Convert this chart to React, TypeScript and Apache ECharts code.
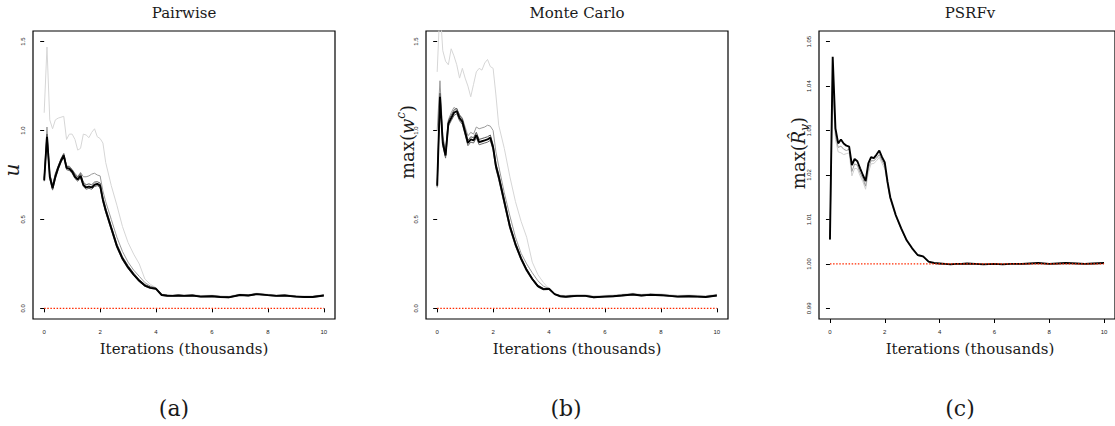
import React, { useEffect, useRef } from "react";
import * as echarts from "echarts";

// iterations (thousands)
const X = [0, 0.1, 0.2, 0.3, 0.4, 0.5, 0.6, 0.7, 0.8, 0.9, 1.0, 1.1, 1.2, 1.3, 1.4, 1.5, 1.6, 1.7, 1.8, 1.9, 2.0, 2.1, 2.2,
  2.4, 2.6, 2.8, 3.0, 3.2, 3.4, 3.6, 3.8, 4.0, 4.2, 4.4, 4.6, 4.8,
  5.0, 5.3, 5.6, 6.0, 6.3, 6.6, 7.0, 7.3, 7.6, 8.0, 8.3, 8.6, 9.0, 9.3, 9.6, 10.0];

const X_TICKS = [0, 2, 4, 6, 8, 10];
const Y_TICKS_AB = [0, 0.5, 1.0, 1.5];
const Y_TICKS_C = [0.99, 1.0, 1.01, 1.02, 1.03, 1.04, 1.05];
const REF_X = [0, 10];
const REF_AB = 0;
const REF_C = 1;

// Panel (a) Pairwise
const A_out = [1.10, 1.47, 1.06, 1.01, 1.06, 1.07, 1.075, 1.08, 0.95, 0.98, 0.98, 0.95, 0.89, 0.90, 0.98, 0.975, 0.96, 0.99, 1.01, 0.965, 0.955, 0.93, 0.82,
  0.69, 0.58, 0.46, 0.37, 0.305, 0.25, 0.165, 0.135, 0.115, 0.08, 0.076, 0.075, 0.078,
  0.076, 0.078, 0.072, 0.074, 0.07, 0.068, 0.08, 0.077, 0.085, 0.079, 0.075, 0.077, 0.071, 0.069, 0.069, 0.077];
const A_g1 = [0.73, 1.02, 0.76, 0.69, 0.76, 0.80, 0.84, 0.87, 0.80, 0.80, 0.78, 0.76, 0.74, 0.765, 0.74, 0.74, 0.745, 0.755, 0.76, 0.75, 0.745, 0.66, 0.60,
  0.50, 0.40, 0.32, 0.26, 0.215, 0.18, 0.145, 0.125, 0.115, 0.078, 0.074, 0.073, 0.075,
  0.073, 0.075, 0.069, 0.071, 0.067, 0.065, 0.078, 0.075, 0.083, 0.077, 0.073, 0.075, 0.069, 0.067, 0.067, 0.075];
const A_g2 = [0.73, 0.98, 0.755, 0.69, 0.755, 0.80, 0.84, 0.87, 0.80, 0.795, 0.78, 0.752, 0.738, 0.758, 0.71, 0.695, 0.70, 0.695, 0.71, 0.712, 0.705, 0.625, 0.565,
  0.462, 0.362, 0.29, 0.24, 0.198, 0.162, 0.134, 0.12, 0.112, 0.078, 0.073, 0.072, 0.074,
  0.072, 0.074, 0.068, 0.07, 0.066, 0.064, 0.077, 0.074, 0.082, 0.076, 0.072, 0.074, 0.068, 0.066, 0.066, 0.074];
const A_g3 = [0.715, 0.95, 0.73, 0.665, 0.73, 0.78, 0.82, 0.85, 0.78, 0.775, 0.76, 0.73, 0.715, 0.735, 0.685, 0.67, 0.675, 0.67, 0.685, 0.69, 0.68, 0.60, 0.54,
  0.44, 0.342, 0.272, 0.223, 0.185, 0.15, 0.124, 0.112, 0.108, 0.073, 0.069, 0.068, 0.07,
  0.068, 0.07, 0.064, 0.066, 0.062, 0.06, 0.073, 0.07, 0.078, 0.072, 0.068, 0.07, 0.064, 0.062, 0.062, 0.07];
const A_main = [0.72, 0.965, 0.74, 0.675, 0.74, 0.79, 0.83, 0.86, 0.79, 0.785, 0.77, 0.74, 0.725, 0.745, 0.695, 0.68, 0.685, 0.68, 0.695, 0.70, 0.69, 0.61, 0.55,
  0.45, 0.35, 0.28, 0.23, 0.19, 0.155, 0.128, 0.115, 0.11, 0.075, 0.071, 0.07, 0.072,
  0.07, 0.072, 0.066, 0.068, 0.064, 0.062, 0.075, 0.072, 0.08, 0.074, 0.07, 0.072, 0.066, 0.064, 0.064, 0.072];

// Panel (b) Monte Carlo
const B_out = [1.33, 1.70, 1.45, 1.39, 1.37, 1.46, 1.42, 1.37, 1.295, 1.35, 1.295, 1.25, 1.19, 1.26, 1.33, 1.35, 1.34, 1.38, 1.40, 1.36, 1.35, 1.20, 1.03,
  0.90, 0.74, 0.60, 0.49, 0.40, 0.26, 0.19, 0.145, 0.11, 0.08, 0.074, 0.072, 0.075,
  0.077, 0.077, 0.07, 0.073, 0.075, 0.079, 0.085, 0.079, 0.083, 0.081, 0.077, 0.073, 0.075, 0.073, 0.071, 0.079];
const B_g1 = [1.0, 1.28, 0.97, 0.89, 1.06, 1.10, 1.13, 1.12, 1.09, 1.07, 1.02, 0.97, 0.99, 0.98, 1.02, 1.01, 1.015, 1.02, 1.03, 1.025, 1.0, 0.88, 0.80,
  0.65, 0.52, 0.40, 0.31, 0.25, 0.20, 0.155, 0.125, 0.11, 0.08, 0.07, 0.068, 0.071,
  0.073, 0.073, 0.065, 0.069, 0.071, 0.075, 0.081, 0.075, 0.079, 0.077, 0.073, 0.069, 0.071, 0.069, 0.067, 0.075];
const B_g2 = [0.70, 1.21, 0.95, 0.875, 1.055, 1.085, 1.115, 1.125, 1.085, 1.065, 1.005, 0.945, 0.965, 0.96, 0.99, 0.95, 0.955, 0.96, 0.965, 0.975, 0.92, 0.815, 0.755,
  0.615, 0.472, 0.37, 0.288, 0.222, 0.17, 0.13, 0.112, 0.112, 0.082, 0.07, 0.067, 0.07,
  0.072, 0.072, 0.064, 0.068, 0.07, 0.074, 0.08, 0.074, 0.078, 0.076, 0.072, 0.068, 0.07, 0.068, 0.066, 0.074];
const B_g3 = [0.68, 1.17, 0.915, 0.845, 1.025, 1.055, 1.085, 1.095, 1.055, 1.035, 0.975, 0.915, 0.935, 0.93, 0.96, 0.92, 0.925, 0.93, 0.935, 0.945, 0.89, 0.785, 0.725,
  0.585, 0.448, 0.35, 0.272, 0.208, 0.16, 0.12, 0.104, 0.106, 0.078, 0.066, 0.063, 0.066,
  0.068, 0.068, 0.06, 0.064, 0.066, 0.07, 0.076, 0.07, 0.074, 0.072, 0.068, 0.064, 0.066, 0.064, 0.062, 0.07];
const B_main = [0.69, 1.19, 0.93, 0.86, 1.04, 1.07, 1.10, 1.11, 1.07, 1.05, 0.99, 0.93, 0.95, 0.945, 0.975, 0.935, 0.94, 0.945, 0.95, 0.96, 0.905, 0.80, 0.74,
  0.60, 0.46, 0.36, 0.28, 0.215, 0.165, 0.125, 0.108, 0.11, 0.08, 0.068, 0.065, 0.068,
  0.07, 0.07, 0.062, 0.066, 0.068, 0.072, 0.078, 0.072, 0.076, 0.074, 0.07, 0.066, 0.068, 0.066, 0.064, 0.072];

// Panel (c) PSRFv
const C_g2 = [1.0055, 1.0392, 1.0280, 1.0252, 1.0250, 1.0246, 1.0248, 1.0250, 1.0198, 1.0215, 1.0214, 1.0198, 1.0185, 1.0168, 1.0205, 1.0225, 1.0226, 1.0232, 1.0240, 1.0226, 1.0214, 1.0176, 1.0144,
  1.0106, 1.0077, 1.0051, 1.0033, 1.0019, 1.0015, 1.0004, 1.0001, 1.0000, 0.9999, 0.9999, 0.9999, 0.9999,
  1.0000, 0.9999, 0.9999, 0.9999, 0.9999, 1.0000, 0.9999, 1.0000, 1.0001, 1.0000, 1.0000, 1.0001, 1.0000, 1.0000, 1.0000, 1.0001];
const C_g1 = [1.0055, 1.0440, 1.0290, 1.0262, 1.0265, 1.0258, 1.0255, 1.0258, 1.0208, 1.0225, 1.0222, 1.0205, 1.0192, 1.0175, 1.0215, 1.0232, 1.0232, 1.0238, 1.0246, 1.0232, 1.0220, 1.0180, 1.0147,
  1.0108, 1.0078, 1.0052, 1.0034, 1.0019, 1.0016, 1.0005, 1.0001, 1.0000, 0.9999, 0.9999, 1.0000, 0.9999,
  1.0000, 1.0000, 0.9999, 0.9999, 0.9999, 1.0000, 0.9999, 1.0001, 1.0001, 1.0000, 1.0000, 1.0001, 1.0001, 1.0000, 1.0000, 1.0001];
const C_main = [1.0055, 1.0466, 1.0305, 1.0271, 1.0280, 1.0271, 1.0266, 1.0264, 1.0222, 1.0236, 1.0231, 1.0215, 1.0200, 1.0186, 1.0226, 1.0240, 1.0238, 1.0246, 1.0255, 1.0240, 1.0228, 1.0185, 1.0150,
  1.0110, 1.0080, 1.0053, 1.0035, 1.0020, 1.0017, 1.0005, 1.0002, 1.0001, 1.0000, 0.9999, 1.0000, 1.0000,
  1.0001, 1.0000, 0.9999, 1.0000, 0.9999, 1.0000, 1.0000, 1.0001, 1.0002, 1.0000, 1.0001, 1.0002, 1.0001, 1.0000, 1.0001, 1.0002];

const SERIF = "'DejaVu Serif', serif";
const SANS = "'Liberation Sans', Arial, sans-serif";

const GRID_LEFTS = [33, 426, 819];
const GRID_TOP = 31;
const GRID_W = 302;
const GRID_H = 288;

function line(idx: number, vals: number[], color: string, width: number) {
  return {
    type: "line",
    xAxisIndex: idx,
    yAxisIndex: idx,
    data: X.map((x, i) => [x, vals[i]]),
    showSymbol: false,
    symbol: "none",
    silent: true,
    clip: true,
    lineStyle: { color, width },
  };
}

function refLine(idx: number, y: number) {
  return {
    type: "line",
    xAxisIndex: idx,
    yAxisIndex: idx,
    data: REF_X.map((x) => [x, y]),
    showSymbol: false,
    symbol: "none",
    silent: true,
    lineStyle: { color: "#ff2a00", width: 1.4, type: [1.5, 1.6] },
  };
}

export default function App() {
  const ref = useRef<HTMLDivElement>(null);
  useEffect(() => {
    const chart = echarts.init(ref.current!, null, { renderer: "svg" });
    const panels = [
      { min: -0.06, max: 1.56, ticks: Y_TICKS_AB, dec: 1 },
      { min: -0.06, max: 1.56, ticks: Y_TICKS_AB, dec: 1 },
      { min: 0.9876, max: 1.0524, ticks: Y_TICKS_C, dec: 2 },
    ];
    const grid = GRID_LEFTS.map((l) => ({
      left: l,
      top: GRID_TOP,
      width: GRID_W,
      height: GRID_H,
      show: true,
      borderColor: "#000",
      borderWidth: 1.2,
      backgroundColor: "transparent",
    }));
    const xAxis = panels.map((_, i) => ({
      gridIndex: i,
      type: "value",
      min: -0.4,
      max: 10.4,
      axisLine: { show: false },
      splitLine: { show: false },
      axisTick: { show: true, customValues: X_TICKS, length: 4, lineStyle: { color: "#000", width: 1 } },
      axisLabel: {
        customValues: X_TICKS,
        fontSize: 6,
        fontFamily: SANS,
        color: "#222",
        margin: 10,
        formatter: (v: number) => String(v),
      },
    }));
    const yAxis = panels.map((p, i) => ({
      gridIndex: i,
      type: "value",
      min: p.min,
      max: p.max,
      axisLine: { show: false },
      splitLine: { show: false },
      axisTick: { show: true, customValues: p.ticks, length: 4, lineStyle: { color: "#000", width: 1 } },
      axisLabel: {
        customValues: p.ticks,
        rotate: 90,
        fontSize: 6,
        fontFamily: SANS,
        color: "#222",
        margin: 7,
        formatter: (v: number) => v.toFixed(p.dec),
      },
    }));
    const series = [
      line(0, A_out, "#d6d6d6", 1),
      line(0, A_g1, "#9a9a9a", 1),
      line(0, A_g2, "#555", 1),
      line(0, A_g3, "#666", 1),
      line(0, A_main, "#000", 1.9),
      refLine(0, REF_AB),
      line(1, B_out, "#d6d6d6", 1),
      line(1, B_g1, "#9a9a9a", 1),
      line(1, B_g2, "#555", 1),
      line(1, B_g3, "#666", 1),
      line(1, B_main, "#000", 1.9),
      refLine(1, REF_AB),
      line(2, C_g2, "#cfcfcf", 1),
      line(2, C_g1, "#9a9a9a", 1),
      line(2, C_main, "#000", 1.9),
      refLine(2, REF_C),
    ];
    const titles = ["Pairwise", "Monte Carlo", "PSRFv"];
    const subs = ["(a)", "(b)", "(c)"];
    const subX = [174, 566, 960];
    const graphic: any[] = [];
    GRID_LEFTS.forEach((l, i) => {
      const cx = l + GRID_W / 2;
      graphic.push({
        type: "text",
        x: cx,
        y: 13,
        style: { text: titles[i], font: `15px ${SERIF}`, fill: "#1a1a1a", align: "center", verticalAlign: "middle" },
      });
      graphic.push({
        type: "text",
        x: cx,
        y: 349,
        style: { text: "Iterations (thousands)", font: `15px ${SERIF}`, fill: "#1a1a1a", align: "center", verticalAlign: "middle" },
      });
      graphic.push({
        type: "text",
        x: subX[i],
        y: 408,
        style: { text: subs[i], font: `22px ${SERIF}`, fill: "#1a1a1a", align: "center", verticalAlign: "middle" },
      });
    });
    graphic.push({
      type: "text",
      x: 12,
      y: 170,
      rotation: Math.PI / 2,
      style: { text: "u", font: `italic 20px ${SERIF}`, fill: "#1a1a1a", align: "center", verticalAlign: "middle" },
    });
    graphic.push({
      type: "text",
      x: 407,
      y: 142,
      rotation: Math.PI / 2,
      style: {
        text: "{m|max(}{w|w}{s|c}{m|)}",
        align: "center",
        verticalAlign: "middle",
        rich: {
          m: { fontSize: 18, fontFamily: SERIF, fill: "#1a1a1a", lineHeight: 24 },
          w: { fontSize: 18, fontFamily: SERIF, fontStyle: "italic", fill: "#1a1a1a", lineHeight: 24 },
          s: { fontSize: 12, fontFamily: SERIF, fontStyle: "italic", fill: "#1a1a1a", verticalAlign: "top", lineHeight: 24 },
        },
      },
    });
    graphic.push({
      type: "text",
      x: 798,
      y: 153,
      rotation: Math.PI / 2,
      style: {
        text: "{m|max(}{w|R\u0302}{s|v}{m|)}",
        align: "center",
        verticalAlign: "middle",
        rich: {
          m: { fontSize: 18, fontFamily: SERIF, fill: "#1a1a1a", lineHeight: 26 },
          w: { fontSize: 18, fontFamily: SERIF, fontStyle: "italic", fill: "#1a1a1a", lineHeight: 26 },
          s: { fontSize: 12, fontFamily: SERIF, fontStyle: "italic", fill: "#1a1a1a", verticalAlign: "bottom", lineHeight: 26 },
        },
      },
    });
    chart.setOption({
      animation: false,
      backgroundColor: "#fff",
      grid,
      xAxis,
      yAxis,
      series,
      graphic,
    });
    return () => chart.dispose();
  }, []);
  return <div ref={ref} style={{ position: "absolute", left: 0, top: 0, width: 1115, height: 426 }} />;
}
